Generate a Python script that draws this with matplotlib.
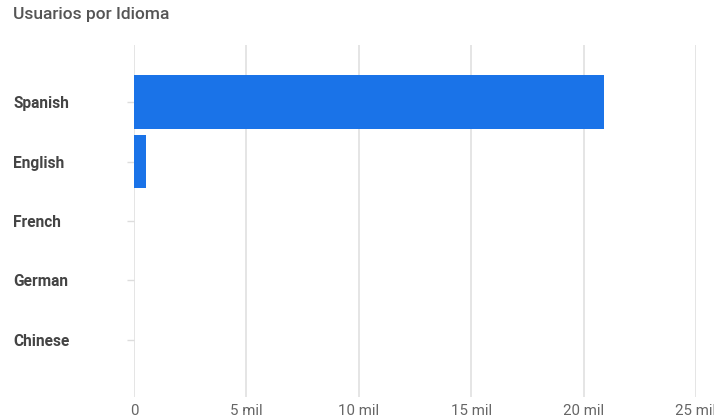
import matplotlib.pyplot as plt
from matplotlib.ticker import FuncFormatter

plt.rcParams['font.family'] = ['Roboto', 'DejaVu Sans']

idiomas = ['Spanish', 'English', 'French', 'German', 'Chinese']
usuarios = [20900, 530, 0, 0, 0]
x_ticks = [0, 5000, 10000, 15000, 20000, 25000]

fig = plt.figure(figsize=(7.14, 4.19), dpi=100)
ax = fig.add_axes([134 / 714, 22 / 419, 562 / 714, 352 / 419])

ax.barh(idiomas, usuarios, height=0.9, color='#1a73e8', zorder=3)

ax.set_xlim(0, 25000)
ax.set_ylim(4.96, -0.96)
ax.set_xticks(x_ticks)
ax.xaxis.set_major_formatter(FuncFormatter(lambda v, p: '0' if v == 0 else '%d mil' % (v / 1000)))
ax.grid(axis='x', color='#e3e3e3', linewidth=1.3, zorder=0)

for s in ax.spines.values():
    s.set_visible(False)

ax.tick_params(axis='x', length=0, pad=5, labelsize=10.8, labelcolor='#666666')
ax.tick_params(axis='y', length=5, width=1, color='#dddddd', pad=82, labelsize=11.2, labelcolor='#444444')
for lab in ax.get_yticklabels():
    lab.set_horizontalalignment('left')
    lab.set_fontweight('bold')

fig.text(13 / 714, 1 - 14 / 419, 'Usuarios por Idioma', fontsize=12.5, color='#555555',
         fontweight='medium', va='center', ha='left')

fig.savefig('out.png', dpi=100)
